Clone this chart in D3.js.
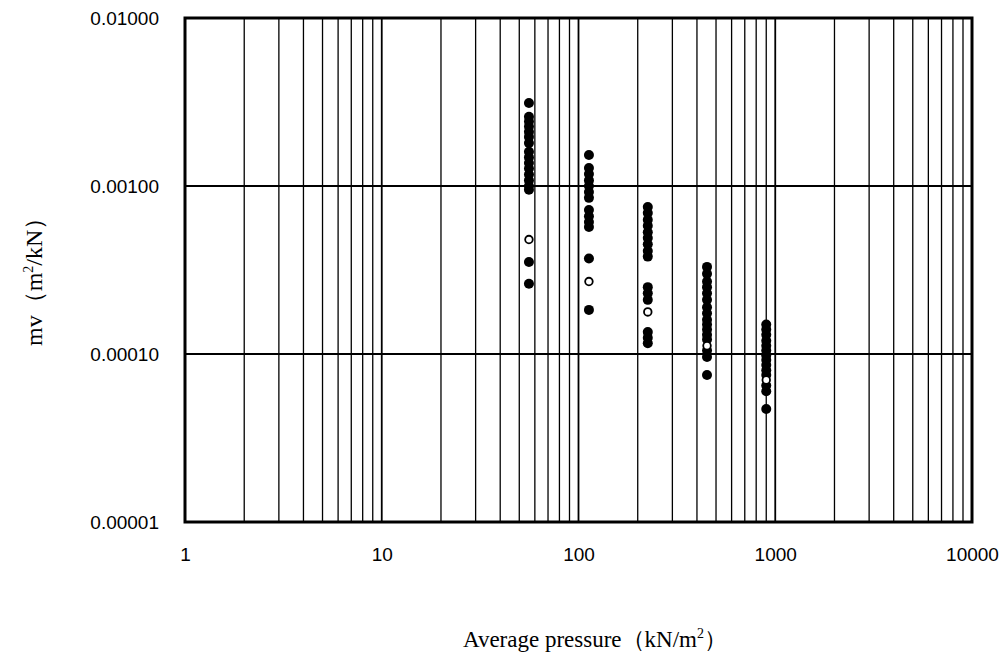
<!DOCTYPE html>
<html>
<head>
<meta charset="utf-8">
<script src="https://cdn.jsdelivr.net/npm/d3@7/dist/d3.min.js"></script>
<style>
  html, body { margin: 0; padding: 0; background: #fff; }
  svg { display: block; }
</style>
</head>
<body>
<svg id="chart" width="1005" height="659"></svg>
<script>
// Average pressure of each loading step (kN/m2)
const pressures = [56, 113, 225, 450, 900];

// Coefficient of volume compressibility mv (m2/kN), one list per loading step
const mvStep1 = [0.00312, 0.00258, 0.00242, 0.00226, 0.00210, 0.00196, 0.00180,
                 0.00160, 0.00148, 0.00137, 0.00127, 0.00117, 0.00108, 0.00100,
                 0.00095, 0.000353, 0.000262];
const mvStep2 = [0.00153, 0.00128, 0.00118, 0.00108, 0.00100, 0.00092, 0.00085,
                 0.00072, 0.00066, 0.00061, 0.00057, 0.00037, 0.000183];
const mvStep3 = [0.00075, 0.00069, 0.00063, 0.00058, 0.00053, 0.00049, 0.00045,
                 0.00041, 0.00038, 0.00025, 0.00023, 0.00021, 0.000135,
                 0.000125, 0.000116];
const mvStep4 = [0.00033, 0.00030, 0.00027, 0.00025, 0.00023, 0.00021, 0.00019,
                 0.000175, 0.00016, 0.00015, 0.00014, 0.00013, 0.000122,
                 0.000105, 0.000096, 0.000075];
const mvStep5 = [0.000150, 0.000140, 0.000130, 0.000120, 0.000112, 0.000105,
                 0.000098, 0.000092, 0.000086, 0.000080, 0.000075, 0.000065,
                 0.000060, 0.000047];
const mvFilled = [mvStep1, mvStep2, mvStep3, mvStep4, mvStep5];

// Mean value at each step (open markers)
const mvMean = [0.00048, 0.00027, 0.000178, 0.000112, 0.000070];

// Tick labels
const xTickValues = [1, 10, 100, 1000, 10000];
const xTickLabels = ["1", "10", "100", "1000", "10000"];
const yTickValues = [0.01, 0.001, 0.0001, 0.00001];
const yTickLabels = ["0.01000", "0.00100", "0.00010", "0.00001"];

const svg = d3.select("#chart");
const plotLeft = 185, plotRight = 972, plotTop = 18, plotBottom = 522;

const x = d3.scaleLog().domain([1, 10000]).range([plotLeft, plotRight]);
const y = d3.scaleLog().domain([0.00001, 0.01]).range([plotBottom, plotTop]);

// Vertical grid at every minor step of each decade
const xMinor = [];
for (let e = 0; e < 4; e++) {
  for (let m = 2; m <= 9; m++) xMinor.push(m * Math.pow(10, e));
}
const xMajor = [10, 100, 1000];

svg.append("g").selectAll("line").data(xMinor).join("line")
  .attr("x1", d => x(d)).attr("x2", d => x(d))
  .attr("y1", plotTop).attr("y2", plotBottom)
  .attr("stroke", "#000").attr("stroke-width", 1.3);

svg.append("g").selectAll("line").data(xMajor).join("line")
  .attr("x1", d => x(d)).attr("x2", d => x(d))
  .attr("y1", plotTop).attr("y2", plotBottom)
  .attr("stroke", "#000").attr("stroke-width", 1.8);

// Horizontal grid at each decade
svg.append("g").selectAll("line").data([0.001, 0.0001]).join("line")
  .attr("x1", plotLeft).attr("x2", plotRight)
  .attr("y1", d => y(d)).attr("y2", d => y(d))
  .attr("stroke", "#000").attr("stroke-width", 2);

// Frame
svg.append("rect")
  .attr("x", plotLeft).attr("y", plotTop)
  .attr("width", plotRight - plotLeft).attr("height", plotBottom - plotTop)
  .attr("fill", "none").attr("stroke", "#000").attr("stroke-width", 3);

// Axes (labels only)
const tickFont = "Liberation Sans, Arial, sans-serif";
const xAxis = d3.axisBottom(x).tickValues(xTickValues)
  .tickFormat((d, i) => xTickLabels[i]).tickSize(0).tickPadding(26);
const gx = svg.append("g").attr("transform", `translate(0,${plotBottom})`).call(xAxis);
gx.select(".domain").remove();
gx.selectAll("text").attr("font-family", tickFont)
  .attr("font-size", 19).attr("fill", "#000");

const yAxis = d3.axisLeft(y).tickValues(yTickValues)
  .tickFormat((d, i) => yTickLabels[i]).tickSize(0).tickPadding(26);
const gy = svg.append("g").attr("transform", `translate(${plotLeft},0)`).call(yAxis);
gy.select(".domain").remove();
gy.selectAll("text").attr("font-family", tickFont)
  .attr("font-size", 19).attr("fill", "#000");

// Filled markers
const pts = [];
mvFilled.forEach((vals, i) => vals.forEach(v => pts.push({ p: pressures[i], v })));
svg.append("g").selectAll("circle").data(pts).join("circle")
  .attr("cx", d => x(d.p)).attr("cy", d => y(d.v))
  .attr("r", 5).attr("fill", "#000");

// Mean markers
svg.append("g").selectAll("circle").data(mvMean).join("circle")
  .attr("cx", (d, i) => x(pressures[i])).attr("cy", d => y(d))
  .attr("r", 3.8).attr("fill", "#fff").attr("stroke", "#000").attr("stroke-width", 1.8);

// Axis titles
const titleFont = "Liberation Serif, Times New Roman, serif";
const xTitle = svg.append("text")
  .attr("x", 463).attr("y", 647).attr("text-anchor", "start")
  .attr("font-family", titleFont)
  .attr("font-size", 23).attr("fill", "#000");
xTitle.append("tspan").text("Average pressure（kN/m");
xTitle.append("tspan").attr("dy", -9).attr("font-size", 14).text("2");
xTitle.append("tspan").attr("dy", 9).text("）");

const yTitle = svg.append("text")
  .attr("transform", "translate(42,346) rotate(-90)")
  .attr("text-anchor", "start")
  .attr("font-family", titleFont)
  .attr("font-size", 24).attr("fill", "#000");
yTitle.append("tspan").text("mv（m");
yTitle.append("tspan").attr("dy", -9).attr("font-size", 14).text("2");
yTitle.append("tspan").attr("dy", 9).text("/kN）");
</script>
</body>
</html>
